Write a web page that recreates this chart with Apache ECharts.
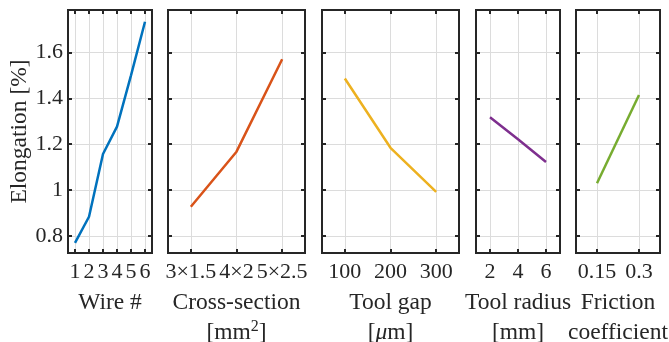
<!DOCTYPE html>
<html>
<head>
<meta charset="utf-8">
<script src="https://cdn.jsdelivr.net/npm/echarts@6/dist/echarts.min.js"></script>
<style>
  html, body { margin: 0; padding: 0; background: #fff; }
  #chart { width: 669px; height: 342px; }
</style>
</head>
<body>
<div id="chart"></div>
<script>
// elongation [%]
const wireX = [1, 2, 3, 4, 5, 6];
const wireY = [0.769, 0.883, 1.157, 1.276, 1.50, 1.734];

const crossX = [1, 2, 3];
const crossLabels = ["3×1.5", "4×2", "5×2.5"];
const crossY = [0.927, 1.167, 1.570];

const gapX = [100, 200, 300];
const gapY = [1.486, 1.184, 0.992];

const radiusX = [2, 4, 6];
const radiusY = [1.317, 1.221, 1.122];

const frictionX = [0.15, 0.3];
const frictionY = [1.029, 1.414];

const yTicks = [0.8, 1, 1.2, 1.4, 1.6];

const ink = "#262626";
const font = "Liberation Serif";
const colors = ["#0072BD", "#D95319", "#EDB120", "#7E2F8E", "#77AC30"];

// panel boxes in px: left, width, x range
const panels = [
  { left: 68, width: 84, min: 0.5, max: 6.5, xs: wireX, ys: wireY, name: "Wire #" },
  { left: 168, width: 137, min: 0.5, max: 3.5, xs: crossX, ys: crossY, name: "Cross-section\n[mm{sup|2}]",
    fmt: (v) => crossLabels[crossX.indexOf(v)] },
  { left: 322, width: 137, min: 50, max: 350, xs: gapX, ys: gapY, name: "Tool gap\n[{it|μ}m]" },
  { left: 476, width: 84, min: 1, max: 7, xs: radiusX, ys: radiusY, name: "Tool radius\n[mm]" },
  { left: 576, width: 84, min: 0.075, max: 0.375, xs: frictionX, ys: frictionY, name: "Friction\ncoefficient" },
];

const chart = echarts.init(document.getElementById("chart"));

const grid = [], xAxis = [], yAxis = [], series = [];
const tickIn = { show: true, inside: true, length: 4, lineStyle: { color: ink, width: 2 } };
const split = { show: true, lineStyle: { color: "#dcdcdc", width: 1 } };

panels.forEach((p, i) => {
  grid.push({
    left: p.left, width: p.width, top: 10, height: 243,
    outerBoundsMode: "none", containLabel: false,
    show: true, borderColor: ink, borderWidth: 2, backgroundColor: "transparent",
  });
  xAxis.push({
    type: "value", gridIndex: i, min: p.min, max: p.max, position: "bottom",
    axisLine: { show: false },
    axisTick: Object.assign({ customValues: p.xs }, tickIn),
    axisLabel: {
      customValues: p.xs, margin: 8, fontFamily: font, fontSize: 22, color: ink,
      formatter: p.fmt || ((v) => String(v)),
    },
    splitLine: split,
    name: p.name, nameLocation: "middle", nameGap: 31,
    nameTextStyle: {
      fontFamily: font, fontSize: 23.5, color: ink, lineHeight: 30,
      rich: {
        it: { fontFamily: font, fontSize: 23.5, fontStyle: "italic", color: ink, lineHeight: 30 },
        sup: { fontFamily: font, fontSize: 16, color: ink, lineHeight: 30, padding: [0, 0, 12, 0] },
      },
    },
  });
  xAxis.push({
    type: "value", gridIndex: i, min: p.min, max: p.max, position: "top",
    axisLine: { show: false },
    axisTick: Object.assign({ customValues: p.xs }, tickIn),
    axisLabel: { show: false },
    splitLine: { show: false },
  });
  yAxis.push({
    type: "value", gridIndex: i, min: 0.725, max: 1.785, position: "left",
    axisLine: { show: false },
    axisTick: Object.assign({ customValues: yTicks }, tickIn),
    axisLabel: {
      show: i === 0, customValues: yTicks, margin: 5,
      fontFamily: font, fontSize: 22, color: ink,
    },
    splitLine: split,
    name: i === 0 ? "Elongation [%]" : "", nameLocation: "middle", nameGap: 35,
    nameTextStyle: { fontFamily: font, fontSize: 23.5, color: ink },
  });
  yAxis.push({
    type: "value", gridIndex: i, min: 0.725, max: 1.785, position: "right",
    axisLine: { show: false },
    axisTick: Object.assign({ customValues: yTicks }, tickIn),
    axisLabel: { show: false },
    splitLine: { show: false },
  });
  series.push({
    type: "line", xAxisIndex: i * 2, yAxisIndex: i * 2,
    data: p.xs.map((x, k) => [x, p.ys[k]]),
    showSymbol: false, symbol: "none",
    lineStyle: { color: colors[i], width: 2.5 },
    animation: false,
  });
});

chart.setOption({ animation: false, grid, xAxis, yAxis, series });
</script>
</body>
</html>
